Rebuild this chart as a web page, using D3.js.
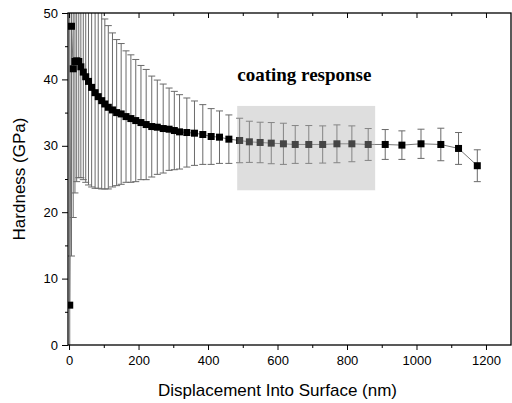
<!DOCTYPE html>
<html>
<head>
<meta charset="utf-8">
<script src="https://cdn.jsdelivr.net/npm/d3@7"></script>
<style>
    html, body { margin: 0; padding: 0; background: #fff; }
    #chart { width: 512px; height: 403px; }
</style>
</head>
<body>
<div id="chart"></div>
<script>
/*jshint esversion: 6 */

// displacement into surface (nm)
const displacement = [2, 7, 12, 17, 22, 28, 34, 41, 48, 56,
    65, 75, 84, 94, 103, 113, 125, 137, 150, 164,
    178, 192, 207, 222, 238, 254, 271, 288, 303, 318,
    339, 361, 385, 409, 433, 460, 491, 519, 550, 582,
    617, 651, 690, 730, 771, 814, 861, 910, 958, 1013,
    1070, 1121, 1175];

// hardness (GPa)
const hardness = [6.0, 48.0, 41.6, 42.7, 42.8, 42.7, 41.9, 41.1, 40.4, 39.7,
    38.8, 38.0, 37.4, 36.8, 36.3, 35.8, 35.4, 35.0, 34.8, 34.4,
    34.1, 33.8, 33.5, 33.2, 32.9, 32.8, 32.6, 32.5, 32.3, 32.1,
    32.0, 31.9, 31.7, 31.4, 31.3, 31.0, 30.8, 30.6, 30.5, 30.4,
    30.3, 30.2, 30.2, 30.2, 30.3, 30.3, 30.2, 30.2, 30.1, 30.3,
    30.2, 29.6, 27.0];

// +/- std dev (GPa)
const hardnessErr = [50, 34.6, 22.4, 19.8, 18.2, 17.5, 16.7, 16.2, 15.9, 15.6,
    15.0, 14.4, 13.8, 13.3, 12.8, 12.3, 11.6, 11.0, 10.6, 9.9,
    9.6, 9.2, 8.6, 8.3, 7.6, 7.1, 6.7, 6.2, 5.9, 5.6,
    5.2, 4.85, 4.5, 4.2, 3.95, 3.65, 3.35, 3.1, 3.05, 3.1,
    3.1, 2.85, 2.85, 2.8, 2.85, 2.7, 2.4, 2.25, 2.15, 2.2,
    2.45, 2.4, 2.4];

const xTicks = [0, 200, 400, 600, 800, 1000, 1200];
const xMinorTicks = [100, 300, 500, 700, 900, 1100];
const yTicks = [0, 10, 20, 30, 40, 50];
const yMinorTicks = [5, 15, 25, 35, 45];

// shaded "coating response" region
const boxX = [484, 881];
const boxY = [23.3, 36];
const boxLabel = "coating response";

(function () {

    let margin = { top: 13, right: 1, bottom: 58, left: 68 };
    let width = 512 - margin.left - margin.right;
    let height = 403 - margin.top - margin.bottom;

    let data = displacement.map(function (d, i) {
        return { x: d, y: hardness[i], e: hardnessErr[i] };
    });

    let svg = d3.select("#chart").append("svg")
        .attr("width", 512)
        .attr("height", 403);

    let x = d3.scaleLinear().domain([-3, 1272]).range([0, width]);
    let y = d3.scaleLinear().domain([0, 50]).range([height, 0]);

    let g = svg.append("g")
        .attr("transform", "translate(" + margin.left + "," + margin.top + ")");

    g.append("clipPath").attr("id", "plot-clip")
        .append("rect")
        .attr("width", width)
        .attr("height", height);

    let plot = g.append("g").attr("clip-path", "url(#plot-clip)");

    // connecting line
    plot.append("path")
        .datum(data)
        .attr("fill", "none")
        .attr("stroke", "#777")
        .attr("stroke-width", 1)
        .attr("d", d3.line().x(function (d) { return x(d.x); }).y(function (d) { return y(d.y); }));

    // error bars
    let bars = plot.selectAll(".err")
        .data(data)
        .enter()
        .append("g")
        .attr("class", "err")
        .attr("stroke", "#6a6a6a")
        .attr("stroke-width", 1);

    bars.append("line")
        .attr("x1", function (d) { return x(d.x); })
        .attr("x2", function (d) { return x(d.x); })
        .attr("y1", function (d) { return y(d.y - d.e); })
        .attr("y2", function (d) { return y(d.y + d.e); });

    bars.append("line")
        .attr("x1", function (d) { return x(d.x) - 3.5; })
        .attr("x2", function (d) { return x(d.x) + 3.5; })
        .attr("y1", function (d) { return y(d.y + d.e); })
        .attr("y2", function (d) { return y(d.y + d.e); });

    bars.append("line")
        .attr("x1", function (d) { return x(d.x) - 3.5; })
        .attr("x2", function (d) { return x(d.x) + 3.5; })
        .attr("y1", function (d) { return y(d.y - d.e); })
        .attr("y2", function (d) { return y(d.y - d.e); });

    // square markers
    plot.selectAll(".pt")
        .data(data)
        .enter()
        .append("rect")
        .attr("class", "pt")
        .attr("fill", "#000")
        .attr("x", function (d) { return x(d.x) - 3.5; })
        .attr("y", function (d) { return y(d.y) - 3.5; })
        .attr("width", 7)
        .attr("height", 7);

    // translucent box over the data
    g.append("rect")
        .attr("x", x(boxX[0]))
        .attr("y", y(boxY[1]))
        .attr("width", x(boxX[1]) - x(boxX[0]))
        .attr("height", y(boxY[0]) - y(boxY[1]))
        .attr("fill", "rgb(172,172,172)")
        .attr("fill-opacity", 0.4);

    g.append("text")
        .attr("x", x(boxX[0]))
        .attr("y", y(boxY[1]) - 25)
        .style("font", "bold 19px 'Liberation Serif', 'Times New Roman', serif")
        .attr("fill", "#000")
        .text(boxLabel);

    // axes
    let tickFont = "13px 'Liberation Sans', Arial, sans-serif";

    let xAxis = g.append("g")
        .attr("transform", "translate(0," + height + ")")
        .call(d3.axisBottom(x).tickValues(xTicks).tickSize(5).tickPadding(6).tickFormat(d3.format("d")));
    xAxis.append("g")
        .call(d3.axisBottom(x).tickValues(xMinorTicks).tickSize(3).tickFormat(""));

    let xTop = g.append("g")
        .call(d3.axisBottom(x).tickValues(xTicks).tickSize(5).tickFormat(""));
    xTop.append("g")
        .call(d3.axisBottom(x).tickValues(xMinorTicks).tickSize(3).tickFormat(""));

    let yAxis = g.append("g")
        .call(d3.axisLeft(y).tickValues(yTicks).tickSize(6).tickPadding(4).tickFormat(d3.format("d")));
    yAxis.append("g")
        .call(d3.axisLeft(y).tickValues(yMinorTicks).tickSize(3).tickFormat(""));

    g.selectAll(".domain").remove();
    g.selectAll(".tick line").attr("stroke", "#000").attr("stroke-width", 1);
    g.selectAll(".tick text").style("font", tickFont).attr("fill", "#000");

    // frame
    g.append("rect")
        .attr("width", width)
        .attr("height", height)
        .attr("fill", "none")
        .attr("stroke", "#000")
        .attr("stroke-width", 1.3);

    // axis titles
    svg.append("text")
        .attr("x", margin.left + x(600))
        .attr("y", 396)
        .attr("text-anchor", "middle")
        .style("font", "17px 'Liberation Sans', Arial, sans-serif")
        .text("Displacement Into Surface (nm)");

    svg.append("text")
        .attr("transform", "translate(25," + (margin.top + y(25)) + ") rotate(-90)")
        .attr("text-anchor", "middle")
        .style("font", "17px 'Liberation Sans', Arial, sans-serif")
        .text("Hardness (GPa)");

})();
</script>
</body>
</html>
